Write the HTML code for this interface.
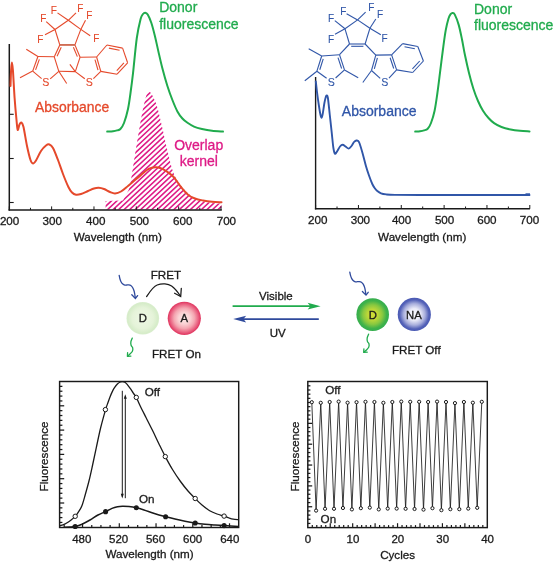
<!DOCTYPE html>
<html lang="en"><head><meta charset="utf-8"><title>FRET photoswitch figure</title>
<style>html,body{margin:0;padding:0;background:#fff}svg{display:block}text{font-family:"Liberation Sans", Arial, Helvetica, sans-serif}</style>
</head><body>
<svg width="553" height="562" viewBox="0 0 553 562">
<defs>
<radialGradient id="gD1" cx="50%" cy="50%" r="50%"><stop offset="0" stop-color="#eff8e6"/><stop offset="0.65" stop-color="#e5f3d9"/><stop offset="0.92" stop-color="#d6ecc9"/><stop offset="1" stop-color="#daeece"/></radialGradient>
<radialGradient id="gA" cx="50%" cy="50%" r="50%"><stop offset="0" stop-color="#fde9e7"/><stop offset="0.35" stop-color="#fad2d4"/><stop offset="0.62" stop-color="#f4a6b1"/><stop offset="0.84" stop-color="#ea6483"/><stop offset="0.96" stop-color="#e23e66"/><stop offset="1" stop-color="#e24268"/></radialGradient>
<radialGradient id="gD2" cx="50%" cy="50%" r="50%"><stop offset="0" stop-color="#d0dc36"/><stop offset="0.3" stop-color="#c0d838"/><stop offset="0.6" stop-color="#88c840"/><stop offset="0.85" stop-color="#40b24a"/><stop offset="1" stop-color="#34ae4e"/></radialGradient>
<radialGradient id="gNA" cx="50%" cy="50%" r="50%"><stop offset="0" stop-color="#fafaff"/><stop offset="0.35" stop-color="#ececf8"/><stop offset="0.65" stop-color="#a8aedc"/><stop offset="0.88" stop-color="#5462b8"/><stop offset="1" stop-color="#4a5ab4"/></radialGradient>
</defs>
<rect width="553" height="562" fill="#fff"/>
<clipPath id="hc"><path d="M105.6 209.4L105.6 201L122.8 200.6C123.4 199.5 125.23 196.38 126.4 194C127.57 191.62 128.6 191.38 129.8 186.3C131 181.22 132.07 172.78 133.6 163.5C135.13 154.22 137.2 140.72 139 130.6C140.8 120.48 142.75 109.33 144.4 102.8C146.05 96.27 147 91.4 148.9 91.4C150.8 91.4 153.75 97.53 155.8 102.8C157.85 108.07 159.25 114.98 161.2 123C163.15 131.02 165.4 142.45 167.5 150.9C169.6 159.35 171.3 167.6 173.8 173.7C176.3 179.8 179.47 183.7 182.5 187.5C185.53 191.3 188.92 194.33 192 196.5C195.08 198.67 197.6 199.43 201 200.5C204.4 201.57 208.97 202.38 212.4 202.9C215.83 203.42 220.07 203.48 221.6 203.6L221.6 209.4Z"/></clipPath>
<path d="M100 77.6L226 -39.9M100 82.75L226 -34.75M100 87.9L226 -29.6M100 93.05L226 -24.45M100 98.2L226 -19.3M100 103.35L226 -14.15M100 108.5L226 -9M100 113.65L226 -3.85M100 118.8L226 1.3M100 123.95L226 6.45M100 129.1L226 11.6M100 134.25L226 16.75M100 139.4L226 21.9M100 144.55L226 27.05M100 149.7L226 32.2M100 154.85L226 37.35M100 160L226 42.5M100 165.15L226 47.65M100 170.3L226 52.8M100 175.45L226 57.95M100 180.6L226 63.1M100 185.75L226 68.25M100 190.9L226 73.4M100 196.05L226 78.55M100 201.2L226 83.7M100 206.35L226 88.85M100 211.5L226 94M100 216.65L226 99.15M100 221.8L226 104.3M100 226.95L226 109.45M100 232.1L226 114.6M100 237.25L226 119.75M100 242.4L226 124.9M100 247.55L226 130.05M100 252.7L226 135.2M100 257.85L226 140.35M100 263L226 145.5M100 268.15L226 150.65M100 273.3L226 155.8M100 278.45L226 160.95M100 283.6L226 166.1M100 288.75L226 171.25M100 293.9L226 176.4M100 299.05L226 181.55M100 304.2L226 186.7M100 309.35L226 191.85M100 314.5L226 197M100 319.65L226 202.15M100 324.8L226 207.3M100 329.95L226 212.45M100 335.1L226 217.6" clip-path="url(#hc)" fill="none" stroke="#de1a86" stroke-width="1.55"/>
<line x1="9.3" y1="44" x2="9.3" y2="210.6" stroke="#1a1a1a" stroke-width="1.5" />
<line x1="8.6" y1="210" x2="221.8" y2="210" stroke="#1a1a1a" stroke-width="1.4" />
<line x1="9.3" y1="114.3" x2="13.7" y2="114.3" stroke="#1a1a1a" stroke-width="1.1" />
<line x1="9.3" y1="158.5" x2="13.7" y2="158.5" stroke="#1a1a1a" stroke-width="1.1" />
<line x1="9.3" y1="202.5" x2="13.7" y2="202.5" stroke="#1a1a1a" stroke-width="1.1" />
<line x1="9.3" y1="210" x2="9.3" y2="206.4" stroke="#1a1a1a" stroke-width="1" />
<line x1="30.47" y1="210" x2="30.47" y2="207.8" stroke="#1a1a1a" stroke-width="1" />
<line x1="51.64" y1="210" x2="51.64" y2="206.4" stroke="#1a1a1a" stroke-width="1" />
<line x1="72.81" y1="210" x2="72.81" y2="207.8" stroke="#1a1a1a" stroke-width="1" />
<line x1="93.98" y1="210" x2="93.98" y2="206.4" stroke="#1a1a1a" stroke-width="1" />
<line x1="115.15" y1="210" x2="115.15" y2="207.8" stroke="#1a1a1a" stroke-width="1" />
<line x1="136.32" y1="210" x2="136.32" y2="206.4" stroke="#1a1a1a" stroke-width="1" />
<line x1="157.49" y1="210" x2="157.49" y2="207.8" stroke="#1a1a1a" stroke-width="1" />
<line x1="178.66" y1="210" x2="178.66" y2="206.4" stroke="#1a1a1a" stroke-width="1" />
<line x1="199.83" y1="210" x2="199.83" y2="207.8" stroke="#1a1a1a" stroke-width="1" />
<line x1="221" y1="210" x2="221" y2="206.4" stroke="#1a1a1a" stroke-width="1" />
<text x="9.6" y="224.7" font-size="11.65" fill="#1a1a1a" stroke="#1a1a1a" stroke-width="0.3" text-anchor="middle" >200</text>
<text x="52.2" y="224.7" font-size="11.65" fill="#1a1a1a" stroke="#1a1a1a" stroke-width="0.3" text-anchor="middle" >300</text>
<text x="95.8" y="224.7" font-size="11.65" fill="#1a1a1a" stroke="#1a1a1a" stroke-width="0.3" text-anchor="middle" >400</text>
<text x="139.4" y="224.7" font-size="11.65" fill="#1a1a1a" stroke="#1a1a1a" stroke-width="0.3" text-anchor="middle" >500</text>
<text x="182.8" y="224.7" font-size="11.65" fill="#1a1a1a" stroke="#1a1a1a" stroke-width="0.3" text-anchor="middle" >600</text>
<text x="226.4" y="224.7" font-size="11.65" fill="#1a1a1a" stroke="#1a1a1a" stroke-width="0.3" text-anchor="middle" >700</text>
<text x="117.8" y="241.3" font-size="11.65" fill="#1a1a1a" stroke="#1a1a1a" stroke-width="0.3" text-anchor="middle" >Wavelength (nm)</text>
<path d="M10.5 86C10.6 83.33 10.87 73.93 11.1 70C11.33 66.07 11.6 62.4 11.9 62.4C12.2 62.4 12.45 64.07 12.9 70C13.35 75.93 14 89.67 14.6 98C15.2 106.33 15.98 114.67 16.5 120C17.02 125.33 17.2 129.25 17.7 130C18.2 130.75 18.87 125.75 19.5 124.5C20.13 123.25 20.83 122.08 21.5 122.5C22.17 122.92 22.58 123.08 23.5 127C24.42 130.92 25.83 140.5 27 146C28.17 151.5 29.5 157.08 30.5 160C31.5 162.92 32.08 163.42 33 163.5C33.92 163.58 34.67 162.58 36 160.5C37.33 158.42 39.33 153.5 41 151C42.67 148.5 44.6 146.58 46 145.5C47.4 144.42 48.23 144.08 49.4 144.5C50.57 144.92 51.57 145.42 53 148C54.43 150.58 56.33 155.67 58 160C59.67 164.33 61.27 169.5 63 174C64.73 178.5 66.9 183.92 68.4 187C69.9 190.08 70.73 191.22 72 192.5C73.27 193.78 74.5 194.45 76 194.7C77.5 194.95 79 194.62 81 194C83 193.38 85.83 191.92 88 191C90.17 190.08 92.22 189.03 94 188.5C95.78 187.97 97.03 187.72 98.7 187.8C100.37 187.88 102.12 188.3 104 189C105.88 189.7 108.17 191.27 110 192C111.83 192.73 113.17 193.48 115 193.4C116.83 193.32 118.83 192.73 121 191.5C123.17 190.27 125.67 187.92 128 186C130.33 184.08 132.92 181.75 135 180C137.08 178.25 138.4 177.25 140.5 175.5C142.6 173.75 145.72 170.78 147.6 169.5C149.48 168.22 150.43 168.17 151.8 167.8C153.17 167.43 154.3 167.22 155.8 167.3C157.3 167.38 158.97 167.6 160.8 168.3C162.63 169 164.67 170.05 166.8 171.5C168.93 172.95 171.23 174.42 173.6 177C175.97 179.58 178.6 184.05 181 187C183.4 189.95 185.67 192.78 188 194.7C190.33 196.62 192.5 197.53 195 198.5C197.5 199.47 200.17 199.95 203 200.5C205.83 201.05 208.92 201.5 212 201.8C215.08 202.1 219.92 202.22 221.5 202.3" fill="none" stroke="#e5492b" stroke-width="2" stroke-linejoin="round" stroke-linecap="round"/>
<path d="M107.2 131.6C108.17 131.53 111.37 131.4 113 131.2C114.63 131 115.77 130.77 117 130.4C118.23 130.03 119.23 130.23 120.4 129C121.57 127.77 122.73 126.33 124 123C125.27 119.67 126.92 114 128 109C129.08 104 129.67 98.93 130.5 93C131.33 87.07 131.95 82.57 133 73.4C134.05 64.23 135.53 47.07 136.8 38C138.07 28.93 139.57 23 140.6 19C141.63 15 142.23 15.05 143 14C143.77 12.95 144.42 12.62 145.2 12.7C145.98 12.78 146.68 12.82 147.7 14.5C148.72 16.18 150.1 19.22 151.3 22.8C152.5 26.38 153.75 31.37 154.9 36C156.05 40.63 156.97 45.27 158.2 50.6C159.43 55.93 160.77 62.1 162.3 68C163.83 73.9 165.72 80.67 167.4 86C169.08 91.33 170.73 95.77 172.4 100C174.07 104.23 175.73 108.32 177.4 111.4C179.07 114.48 180.72 116.6 182.4 118.5C184.08 120.4 185.57 121.45 187.5 122.8C189.43 124.15 191.58 125.57 194 126.6C196.42 127.63 199 128.3 202 129C205 129.7 208.5 130.37 212 130.8C215.5 131.23 221.17 131.47 223 131.6" fill="none" stroke="#20ab4d" stroke-width="2" stroke-linejoin="round" stroke-linecap="round"/>
<text x="159.2" y="12.4" font-size="14" fill="#20ab4d" stroke="#20ab4d" stroke-width="0.3" text-anchor="start" >Donor</text>
<text x="159.2" y="28.7" font-size="14" fill="#20ab4d" stroke="#20ab4d" stroke-width="0.3" text-anchor="start" >fluorescence</text>
<text x="35" y="111.6" font-size="13.9" fill="#e5492b" stroke="#e5492b" stroke-width="0.3" text-anchor="start" >Absorbance</text>
<text x="198.7" y="149.5" font-size="14" fill="#de1a86" stroke="#de1a86" stroke-width="0.3" text-anchor="middle" >Overlap</text>
<text x="198.9" y="165.6" font-size="14" fill="#de1a86" stroke="#de1a86" stroke-width="0.3" text-anchor="middle" >kernel</text>
<line x1="68.3" y1="20.3" x2="55" y2="29.5" stroke="#e5492b" stroke-width="1.1" />
<line x1="68.3" y1="20.3" x2="80.8" y2="29.4" stroke="#e5492b" stroke-width="1.1" />
<line x1="55" y1="29.5" x2="59.8" y2="44.9" stroke="#e5492b" stroke-width="1.1" />
<line x1="80.8" y1="29.4" x2="74.9" y2="44.9" stroke="#e5492b" stroke-width="1.1" />
<line x1="59.8" y1="44.9" x2="74.9" y2="44.9" stroke="#e5492b" stroke-width="1.1" />
<line x1="68.3" y1="20.3" x2="57.5" y2="12.9" stroke="#e5492b" stroke-width="1.1" />
<line x1="68.3" y1="20.3" x2="76" y2="12.8" stroke="#e5492b" stroke-width="1.1" />
<line x1="55" y1="29.5" x2="46.2" y2="21.6" stroke="#e5492b" stroke-width="1.1" />
<line x1="55" y1="29.5" x2="45" y2="34.8" stroke="#e5492b" stroke-width="1.1" />
<line x1="80.8" y1="29.4" x2="85.5" y2="20.2" stroke="#e5492b" stroke-width="1.1" />
<line x1="80.8" y1="29.4" x2="90.2" y2="35.8" stroke="#e5492b" stroke-width="1.1" />
<text x="53.7" y="14" font-size="10" fill="#e5492b" stroke="#e5492b" stroke-width="0.1" text-anchor="middle" >F</text>
<text x="80.3" y="12.2" font-size="10" fill="#e5492b" stroke="#e5492b" stroke-width="0.1" text-anchor="middle" >F</text>
<text x="43.2" y="22" font-size="10" fill="#e5492b" stroke="#e5492b" stroke-width="0.1" text-anchor="middle" >F</text>
<text x="40.3" y="42.6" font-size="10" fill="#e5492b" stroke="#e5492b" stroke-width="0.1" text-anchor="middle" >F</text>
<text x="89.2" y="18.5" font-size="10" fill="#e5492b" stroke="#e5492b" stroke-width="0.1" text-anchor="middle" >F</text>
<text x="96.4" y="42.3" font-size="10" fill="#e5492b" stroke="#e5492b" stroke-width="0.1" text-anchor="middle" >F</text>
<line x1="74.9" y1="44.9" x2="80.1" y2="57.2" stroke="#e5492b" stroke-width="1.1" />
<line x1="80.1" y1="57.2" x2="75.3" y2="71.6" stroke="#e5492b" stroke-width="1.1" />
<line x1="75.3" y1="71.6" x2="58.8" y2="71.3" stroke="#e5492b" stroke-width="1.1" />
<line x1="58.8" y1="71.3" x2="54.3" y2="56.8" stroke="#e5492b" stroke-width="1.1" />
<line x1="54.3" y1="56.8" x2="59.8" y2="44.9" stroke="#e5492b" stroke-width="1.1" />
<line x1="57.05" y1="56.34" x2="61.23" y2="47.29" stroke="#e5492b" stroke-width="1.1" />
<line x1="73.41" y1="47.27" x2="77.36" y2="56.62" stroke="#e5492b" stroke-width="1.1" />
<line x1="59.8" y1="44.9" x2="74.9" y2="44.9" stroke="#c9684f" stroke-width="1.5" />
<line x1="54.3" y1="56.8" x2="37.9" y2="56.5" stroke="#e5492b" stroke-width="1.1" />
<line x1="37.9" y1="56.5" x2="32.7" y2="71.1" stroke="#e5492b" stroke-width="1.1" />
<line x1="39.34" y1="59.32" x2="35.59" y2="69.83" stroke="#e5492b" stroke-width="1.1" />
<line x1="32.7" y1="71.1" x2="41.6" y2="78.6" stroke="#e5492b" stroke-width="1.1" />
<line x1="58.8" y1="71.3" x2="50.2" y2="78.8" stroke="#e5492b" stroke-width="1.1" />
<text x="45.8" y="85.9" font-size="10.6" fill="#e5492b" stroke="#e5492b" stroke-width="0.1" text-anchor="middle" >S</text>
<line x1="37.9" y1="56.5" x2="26.3" y2="49.2" stroke="#e5492b" stroke-width="1.1" />
<line x1="32.7" y1="71.1" x2="20" y2="77.7" stroke="#e5492b" stroke-width="1.1" />
<line x1="58.8" y1="71.3" x2="66.7" y2="83.5" stroke="#e5492b" stroke-width="1.1" />
<line x1="75.3" y1="71.6" x2="69.9" y2="64.4" stroke="#e5492b" stroke-width="1.1" />
<line x1="80.1" y1="57.2" x2="96.6" y2="57" stroke="#e5492b" stroke-width="1.1" />
<line x1="96.6" y1="57" x2="100.8" y2="71.4" stroke="#e5492b" stroke-width="1.1" />
<line x1="94.98" y1="59.66" x2="98" y2="70.03" stroke="#e5492b" stroke-width="1.1" />
<line x1="100.8" y1="71.4" x2="93.4" y2="78.6" stroke="#e5492b" stroke-width="1.1" />
<line x1="75.3" y1="71.6" x2="84.8" y2="78.8" stroke="#e5492b" stroke-width="1.1" />
<text x="89.2" y="85.9" font-size="10.6" fill="#e5492b" stroke="#e5492b" stroke-width="0.1" text-anchor="middle" >S</text>
<line x1="96.6" y1="57" x2="106.9" y2="45" stroke="#e5492b" stroke-width="1.1" />
<line x1="106.9" y1="45" x2="122.6" y2="48.1" stroke="#e5492b" stroke-width="1.1" />
<line x1="122.6" y1="48.1" x2="127.6" y2="62.8" stroke="#e5492b" stroke-width="1.1" />
<line x1="127.6" y1="62.8" x2="117.1" y2="74.2" stroke="#e5492b" stroke-width="1.1" />
<line x1="117.1" y1="74.2" x2="100.8" y2="71.4" stroke="#e5492b" stroke-width="1.1" />
<line x1="108.89" y1="48.14" x2="119.56" y2="50.25" stroke="#e5492b" stroke-width="1.1" />
<line x1="123.93" y1="62.79" x2="116.79" y2="70.55" stroke="#e5492b" stroke-width="1.1" />
<line x1="315.6" y1="77" x2="315.6" y2="209.4" stroke="#1a1a1a" stroke-width="1.4" />
<line x1="314.9" y1="208.8" x2="529.9" y2="208.8" stroke="#1a1a1a" stroke-width="1.4" />
<line x1="315.6" y1="208.8" x2="315.6" y2="205" stroke="#1a1a1a" stroke-width="1" />
<line x1="337.02" y1="208.8" x2="337.02" y2="206.5" stroke="#1a1a1a" stroke-width="1" />
<line x1="358.44" y1="208.8" x2="358.44" y2="205" stroke="#1a1a1a" stroke-width="1" />
<line x1="379.86" y1="208.8" x2="379.86" y2="206.5" stroke="#1a1a1a" stroke-width="1" />
<line x1="401.28" y1="208.8" x2="401.28" y2="205" stroke="#1a1a1a" stroke-width="1" />
<line x1="422.7" y1="208.8" x2="422.7" y2="206.5" stroke="#1a1a1a" stroke-width="1" />
<line x1="444.12" y1="208.8" x2="444.12" y2="205" stroke="#1a1a1a" stroke-width="1" />
<line x1="465.54" y1="208.8" x2="465.54" y2="206.5" stroke="#1a1a1a" stroke-width="1" />
<line x1="486.96" y1="208.8" x2="486.96" y2="205" stroke="#1a1a1a" stroke-width="1" />
<line x1="508.38" y1="208.8" x2="508.38" y2="206.5" stroke="#1a1a1a" stroke-width="1" />
<line x1="529.8" y1="208.8" x2="529.8" y2="205" stroke="#1a1a1a" stroke-width="1" />
<text x="317.8" y="224.4" font-size="11.65" fill="#1a1a1a" stroke="#1a1a1a" stroke-width="0.3" text-anchor="middle" >200</text>
<text x="360.4" y="224.4" font-size="11.65" fill="#1a1a1a" stroke="#1a1a1a" stroke-width="0.3" text-anchor="middle" >300</text>
<text x="401.6" y="224.4" font-size="11.65" fill="#1a1a1a" stroke="#1a1a1a" stroke-width="0.3" text-anchor="middle" >400</text>
<text x="444.6" y="224.4" font-size="11.65" fill="#1a1a1a" stroke="#1a1a1a" stroke-width="0.3" text-anchor="middle" >500</text>
<text x="486.9" y="224.4" font-size="11.65" fill="#1a1a1a" stroke="#1a1a1a" stroke-width="0.3" text-anchor="middle" >600</text>
<text x="529.5" y="224.4" font-size="11.65" fill="#1a1a1a" stroke="#1a1a1a" stroke-width="0.3" text-anchor="middle" >700</text>
<text x="422.2" y="241.2" font-size="11.65" fill="#1a1a1a" stroke="#1a1a1a" stroke-width="0.3" text-anchor="middle" >Wavelength (nm)</text>
<path d="M315.8 81.5C316 83.25 316.5 88.08 317 92C317.5 95.92 318.23 101.25 318.8 105C319.37 108.75 319.93 112.38 320.4 114.5C320.87 116.62 321.22 117.78 321.6 117.7C321.98 117.62 322.23 116.45 322.7 114C323.17 111.55 323.88 105.83 324.4 103C324.92 100.17 325.4 98.27 325.8 97C326.2 95.73 326.45 95.23 326.8 95.4C327.15 95.57 327.4 94.73 327.9 98C328.4 101.27 329.15 109.1 329.8 115C330.45 120.9 331.2 127.9 331.8 133.4C332.4 138.9 332.87 144.62 333.4 148C333.93 151.38 334.4 153.12 335 153.7C335.6 154.28 336.17 152.7 337 151.5C337.83 150.3 339.05 147.62 340 146.5C340.95 145.38 341.78 144.8 342.7 144.8C343.62 144.8 344.5 145.87 345.5 146.5C346.5 147.13 347.7 148.68 348.7 148.6C349.7 148.52 350.62 147.1 351.5 146C352.38 144.9 353.2 142.92 354 142C354.8 141.08 355.6 140.67 356.3 140.5C357 140.33 357.65 140.5 358.2 141C358.75 141.5 358.88 141.5 359.6 143.5C360.32 145.5 361.43 149.2 362.5 153C363.57 156.8 364.92 162.55 366 166.3C367.08 170.05 367.95 172.55 369 175.5C370.05 178.45 371.3 181.83 372.3 184C373.3 186.17 374.17 187.33 375 188.5C375.83 189.67 376.3 190.2 377.3 191C378.3 191.8 379.52 192.73 381 193.3C382.48 193.87 383.87 194.13 386.2 194.4C388.53 194.67 389.37 194.8 395 194.9C400.63 195 409.17 194.98 420 195C430.83 195.02 446.67 195 460 195C473.33 195 488.42 195 500 195C511.58 195 524.58 195 529.5 195" fill="none" stroke="#3056a8" stroke-width="1.9" stroke-linejoin="round" stroke-linecap="round"/>
<line x1="525.5" y1="194.6" x2="530" y2="194.6" stroke="#3056a8" stroke-width="2.6" />
<path d="M415.2 131.6C416 131.53 418.53 131.4 420 131.2C421.47 131 422.72 130.82 424 130.4C425.28 129.98 426.53 129.93 427.7 128.7C428.87 127.47 429.85 126 431 123C432.15 120 433.53 115.7 434.6 110.7C435.67 105.7 436.48 99.47 437.4 93C438.32 86.53 439.17 79.23 440.1 71.9C441.03 64.57 442.07 55.92 443 49C443.93 42.08 444.78 35.48 445.7 30.4C446.62 25.32 447.68 21.2 448.5 18.5C449.32 15.8 449.92 15.12 450.6 14.2C451.28 13.28 451.9 12.93 452.6 13C453.3 13.07 453.78 12.62 454.8 14.6C455.82 16.58 457.5 20.75 458.7 24.9C459.9 29.05 460.95 34.43 462 39.5C463.05 44.57 463.83 49.72 465 55.3C466.17 60.88 467.62 67.47 469 73C470.38 78.53 471.8 83.83 473.3 88.5C474.8 93.17 476.38 97.3 478 101C479.62 104.7 481.25 107.87 483 110.7C484.75 113.53 486.65 115.93 488.5 118C490.35 120.07 491.93 121.6 494.1 123.1C496.27 124.6 498.73 125.93 501.5 127C504.27 128.07 507.62 128.87 510.7 129.5C513.78 130.13 516.87 130.48 520 130.8C523.13 131.12 527.92 131.3 529.5 131.4" fill="none" stroke="#20ab4d" stroke-width="2" stroke-linejoin="round" stroke-linecap="round"/>
<text x="474" y="13.8" font-size="14" fill="#20ab4d" stroke="#20ab4d" stroke-width="0.3" text-anchor="start" >Donor</text>
<text x="474" y="29.9" font-size="14" fill="#20ab4d" stroke="#20ab4d" stroke-width="0.3" text-anchor="start" >fluorescence</text>
<text x="341.8" y="115.9" font-size="14" fill="#3056a8" stroke="#3056a8" stroke-width="0.3" text-anchor="start" >Absorbance</text>
<line x1="357.6" y1="19.9" x2="345" y2="28.8" stroke="#3056a8" stroke-width="1.1" />
<line x1="357.6" y1="19.9" x2="369.9" y2="28.3" stroke="#3056a8" stroke-width="1.1" />
<line x1="345" y1="28.8" x2="349.5" y2="44" stroke="#3056a8" stroke-width="1.1" />
<line x1="369.9" y1="28.3" x2="365.1" y2="44" stroke="#3056a8" stroke-width="1.1" />
<line x1="349.5" y1="44" x2="365.1" y2="44" stroke="#3056a8" stroke-width="1.1" />
<line x1="351.2" y1="46.3" x2="363.4" y2="46.3" stroke="#3056a8" stroke-width="1.1" />
<line x1="357.6" y1="19.9" x2="346.6" y2="13.8" stroke="#3056a8" stroke-width="1.1" />
<line x1="357.6" y1="19.9" x2="365.6" y2="12.2" stroke="#3056a8" stroke-width="1.1" />
<line x1="345" y1="28.8" x2="334.8" y2="20.6" stroke="#3056a8" stroke-width="1.1" />
<line x1="345" y1="28.8" x2="335" y2="34.2" stroke="#3056a8" stroke-width="1.1" />
<line x1="369.9" y1="28.3" x2="375.8" y2="19" stroke="#3056a8" stroke-width="1.1" />
<line x1="369.9" y1="28.3" x2="380.8" y2="34.8" stroke="#3056a8" stroke-width="1.1" />
<text x="343.4" y="15" font-size="10" fill="#3056a8" stroke="#3056a8" stroke-width="0.1" text-anchor="middle" >F</text>
<text x="371.2" y="10.9" font-size="10" fill="#3056a8" stroke="#3056a8" stroke-width="0.1" text-anchor="middle" >F</text>
<text x="331.1" y="22" font-size="10" fill="#3056a8" stroke="#3056a8" stroke-width="0.1" text-anchor="middle" >F</text>
<text x="331.1" y="42.6" font-size="10" fill="#3056a8" stroke="#3056a8" stroke-width="0.1" text-anchor="middle" >F</text>
<text x="380.1" y="18.2" font-size="10" fill="#3056a8" stroke="#3056a8" stroke-width="0.1" text-anchor="middle" >F</text>
<text x="384.5" y="42.2" font-size="10" fill="#3056a8" stroke="#3056a8" stroke-width="0.1" text-anchor="middle" >F</text>
<line x1="349.5" y1="44" x2="339.5" y2="54.7" stroke="#3056a8" stroke-width="1.1" />
<line x1="339.5" y1="54.7" x2="321.7" y2="56" stroke="#3056a8" stroke-width="1.1" />
<line x1="321.7" y1="56" x2="316.9" y2="71.2" stroke="#3056a8" stroke-width="1.1" />
<line x1="339.5" y1="54.7" x2="344.5" y2="69.9" stroke="#3056a8" stroke-width="1.1" />
<line x1="323.22" y1="58.82" x2="319.77" y2="69.76" stroke="#3056a8" stroke-width="1.1" />
<line x1="338.02" y1="57.55" x2="341.62" y2="68.49" stroke="#3056a8" stroke-width="1.1" />
<line x1="316.9" y1="71.2" x2="326.6" y2="78.3" stroke="#3056a8" stroke-width="1.1" />
<line x1="344.5" y1="69.9" x2="335.6" y2="78" stroke="#3056a8" stroke-width="1.1" />
<text x="331.4" y="85.7" font-size="10.6" fill="#3056a8" stroke="#3056a8" stroke-width="0.1" text-anchor="middle" >S</text>
<line x1="321.7" y1="56" x2="308.7" y2="48.8" stroke="#3056a8" stroke-width="1.1" />
<line x1="316.9" y1="71.2" x2="304.8" y2="80.7" stroke="#3056a8" stroke-width="1.1" />
<line x1="344.5" y1="69.9" x2="358.2" y2="77.7" stroke="#3056a8" stroke-width="1.1" />
<line x1="365.1" y1="44" x2="375.8" y2="55.1" stroke="#3056a8" stroke-width="1.1" />
<line x1="375.8" y1="55.1" x2="391.6" y2="54.9" stroke="#3056a8" stroke-width="1.1" />
<line x1="391.6" y1="54.9" x2="396.6" y2="69.9" stroke="#3056a8" stroke-width="1.1" />
<line x1="375.8" y1="55.1" x2="371.5" y2="70.5" stroke="#3056a8" stroke-width="1.1" />
<line x1="377.41" y1="57.87" x2="374.32" y2="68.96" stroke="#3056a8" stroke-width="1.1" />
<line x1="390.12" y1="57.73" x2="393.72" y2="68.53" stroke="#3056a8" stroke-width="1.1" />
<line x1="371.5" y1="70.5" x2="380.2" y2="78.4" stroke="#3056a8" stroke-width="1.1" />
<line x1="396.6" y1="69.9" x2="389" y2="78.2" stroke="#3056a8" stroke-width="1.1" />
<text x="384.7" y="86" font-size="10.6" fill="#3056a8" stroke="#3056a8" stroke-width="0.1" text-anchor="middle" >S</text>
<line x1="371.5" y1="70.5" x2="362.8" y2="82.5" stroke="#3056a8" stroke-width="1.1" />
<line x1="391.6" y1="54.9" x2="402.6" y2="43.6" stroke="#3056a8" stroke-width="1.1" />
<line x1="402.6" y1="43.6" x2="417.8" y2="46.5" stroke="#3056a8" stroke-width="1.1" />
<line x1="417.8" y1="46.5" x2="423.4" y2="61" stroke="#3056a8" stroke-width="1.1" />
<line x1="423.4" y1="61" x2="412.7" y2="72.5" stroke="#3056a8" stroke-width="1.1" />
<line x1="412.7" y1="72.5" x2="396.6" y2="69.9" stroke="#3056a8" stroke-width="1.1" />
<line x1="404.53" y1="46.72" x2="414.86" y2="48.69" stroke="#3056a8" stroke-width="1.1" />
<line x1="419.71" y1="61" x2="412.44" y2="68.82" stroke="#3056a8" stroke-width="1.1" />
<circle cx="142.8" cy="318.3" r="16.3" fill="url(#gD1)"/>
<circle cx="184.3" cy="318.3" r="16.6" fill="url(#gA)"/>
<text x="142.8" y="322.2" font-size="11.3" fill="#1a1a1a" stroke="#1a1a1a" stroke-width="0.3" text-anchor="middle" >D</text>
<text x="184.2" y="322.2" font-size="11.3" fill="#1a1a1a" stroke="#1a1a1a" stroke-width="0.3" text-anchor="middle" >A</text>
<text x="165.9" y="278.6" font-size="11.65" fill="#1a1a1a" stroke="#1a1a1a" stroke-width="0.3" text-anchor="middle" >FRET</text>
<text x="152" y="357.6" font-size="11.65" fill="#1a1a1a" stroke="#1a1a1a" stroke-width="0.3" text-anchor="start" >FRET On</text>
<path d="M119.2 275.5C119.32 276.03 119.6 277.67 119.9 278.7C120.2 279.73 120.52 280.8 121 281.7C121.48 282.6 122.17 283.53 122.8 284.1C123.43 284.67 124.13 284.95 124.8 285.1C125.47 285.25 126.13 285.03 126.8 285C127.47 284.97 128.13 284.82 128.8 284.9C129.47 284.98 130.17 285.07 130.8 285.5C131.43 285.93 132.07 286.63 132.6 287.5C133.13 288.37 133.63 289.53 134 290.7C134.37 291.87 134.6 293.37 134.8 294.5C135 295.63 135.13 297 135.2 297.5" fill="none" stroke="#2f4a9c" stroke-width="1.3" stroke-linecap="round"/>
<path d="M131.8 294.8L135.4 298.4L137.6 295.6" fill="none" stroke="#2f4a9c" stroke-width="1.3" stroke-linecap="round" stroke-linejoin="miter"/>
<path d="M349.8 272.2C349.92 272.73 350.2 274.37 350.5 275.4C350.8 276.43 351.12 277.5 351.6 278.4C352.08 279.3 352.77 280.23 353.4 280.8C354.03 281.37 354.73 281.65 355.4 281.8C356.07 281.95 356.73 281.73 357.4 281.7C358.07 281.67 358.73 281.52 359.4 281.6C360.07 281.68 360.77 281.77 361.4 282.2C362.03 282.63 362.67 283.33 363.2 284.2C363.73 285.07 364.23 286.23 364.6 287.4C364.97 288.57 365.2 290.07 365.4 291.2C365.6 292.33 365.73 293.7 365.8 294.2" fill="none" stroke="#2f4a9c" stroke-width="1.3" stroke-linecap="round"/>
<path d="M362.4 291.5L366 295.1L368.2 292.3" fill="none" stroke="#2f4a9c" stroke-width="1.3" stroke-linecap="round" stroke-linejoin="miter"/>
<path d="M132.3 338.1C132.07 338.7 131.1 340.5 130.9 341.7C130.7 342.9 130.8 344.27 131.1 345.3C131.4 346.33 132.48 346.92 132.7 347.9C132.92 348.88 132.87 350.17 132.4 351.2C131.93 352.23 130.65 353.33 129.9 354.1C129.15 354.87 128.23 355.52 127.9 355.8" fill="none" stroke="#20ab4d" stroke-width="1.3" stroke-linecap="round"/>
<path d="M127.4 356.3L127.6 352.7M127.4 356.3L130.9 356.1" fill="none" stroke="#20ab4d" stroke-width="1.3" stroke-linecap="round"/>
<path d="M368.6 334.2C368.37 334.8 367.4 336.6 367.2 337.8C367 339 367.1 340.37 367.4 341.4C367.7 342.43 368.78 343.02 369 344C369.22 344.98 369.17 346.27 368.7 347.3C368.23 348.33 366.95 349.43 366.2 350.2C365.45 350.97 364.53 351.62 364.2 351.9" fill="none" stroke="#20ab4d" stroke-width="1.3" stroke-linecap="round"/>
<path d="M363.7 352.4L363.9 348.8M363.7 352.4L367.2 352.2" fill="none" stroke="#20ab4d" stroke-width="1.3" stroke-linecap="round"/>
<path d="M146.6 296.6C149.6 292 153 286.6 157.2 285C162 283.2 168.2 283.7 171.6 286C175.2 288.6 178 292.4 180.4 296" fill="none" stroke="#1a1a1a" stroke-width="1.25" stroke-linecap="round"/>
<path d="M174.6 293.2L180.7 296.5L181.3 288.4" fill="none" stroke="#1a1a1a" stroke-width="1.25" stroke-linecap="round" stroke-linejoin="miter"/>
<line x1="232.6" y1="306.2" x2="312" y2="306.2" stroke="#20ab4d" stroke-width="1.8" />
<path d="M320.6 306.2L307.6 302.8L310.4 306.2L307.6 309.6Z" fill="#20ab4d"/>
<line x1="242" y1="319.1" x2="318.8" y2="319.1" stroke="#2f4a9c" stroke-width="1.8" />
<path d="M233.2 319.1L246.2 315.7L243.4 319.1L246.2 322.5Z" fill="#2f4a9c"/>
<text x="275.9" y="300.1" font-size="11.5" fill="#1a1a1a" stroke="#1a1a1a" stroke-width="0.3" text-anchor="middle" >Visible</text>
<text x="277.7" y="336.5" font-size="11.5" fill="#1a1a1a" stroke="#1a1a1a" stroke-width="0.3" text-anchor="middle" >UV</text>
<circle cx="372.7" cy="314.6" r="16.3" fill="url(#gD2)"/>
<circle cx="414.3" cy="314.4" r="16.6" fill="url(#gNA)"/>
<text x="372.8" y="318.8" font-size="11.3" fill="#1a1a1a" stroke="#1a1a1a" stroke-width="0.3" text-anchor="middle" >D</text>
<text x="413.9" y="318.8" font-size="11.3" fill="#1a1a1a" stroke="#1a1a1a" stroke-width="0.3" text-anchor="middle" >NA</text>
<text x="391.9" y="354" font-size="11.65" fill="#1a1a1a" stroke="#1a1a1a" stroke-width="0.3" text-anchor="start" >FRET Off</text>
<rect x="59.6" y="381.5" width="179.1" height="146" fill="none" stroke="#1a1a1a" stroke-width="1.45"/>
<line x1="59.6" y1="386.36" x2="62.4" y2="386.36" stroke="#1a1a1a" stroke-width="1.25" />
<line x1="59.6" y1="391.22" x2="62.4" y2="391.22" stroke="#1a1a1a" stroke-width="1.25" />
<line x1="59.6" y1="396.08" x2="62.4" y2="396.08" stroke="#1a1a1a" stroke-width="1.25" />
<line x1="59.6" y1="400.94" x2="62.4" y2="400.94" stroke="#1a1a1a" stroke-width="1.25" />
<line x1="59.6" y1="405.8" x2="64.2" y2="405.8" stroke="#1a1a1a" stroke-width="1.25" />
<line x1="59.6" y1="410.66" x2="62.4" y2="410.66" stroke="#1a1a1a" stroke-width="1.25" />
<line x1="59.6" y1="415.52" x2="62.4" y2="415.52" stroke="#1a1a1a" stroke-width="1.25" />
<line x1="59.6" y1="420.38" x2="62.4" y2="420.38" stroke="#1a1a1a" stroke-width="1.25" />
<line x1="59.6" y1="425.24" x2="62.4" y2="425.24" stroke="#1a1a1a" stroke-width="1.25" />
<line x1="59.6" y1="430.1" x2="64.2" y2="430.1" stroke="#1a1a1a" stroke-width="1.25" />
<line x1="59.6" y1="434.96" x2="62.4" y2="434.96" stroke="#1a1a1a" stroke-width="1.25" />
<line x1="59.6" y1="439.82" x2="62.4" y2="439.82" stroke="#1a1a1a" stroke-width="1.25" />
<line x1="59.6" y1="444.68" x2="62.4" y2="444.68" stroke="#1a1a1a" stroke-width="1.25" />
<line x1="59.6" y1="449.54" x2="62.4" y2="449.54" stroke="#1a1a1a" stroke-width="1.25" />
<line x1="59.6" y1="454.4" x2="64.2" y2="454.4" stroke="#1a1a1a" stroke-width="1.25" />
<line x1="59.6" y1="459.26" x2="62.4" y2="459.26" stroke="#1a1a1a" stroke-width="1.25" />
<line x1="59.6" y1="464.12" x2="62.4" y2="464.12" stroke="#1a1a1a" stroke-width="1.25" />
<line x1="59.6" y1="468.98" x2="62.4" y2="468.98" stroke="#1a1a1a" stroke-width="1.25" />
<line x1="59.6" y1="473.84" x2="62.4" y2="473.84" stroke="#1a1a1a" stroke-width="1.25" />
<line x1="59.6" y1="478.7" x2="64.2" y2="478.7" stroke="#1a1a1a" stroke-width="1.25" />
<line x1="59.6" y1="483.56" x2="62.4" y2="483.56" stroke="#1a1a1a" stroke-width="1.25" />
<line x1="59.6" y1="488.42" x2="62.4" y2="488.42" stroke="#1a1a1a" stroke-width="1.25" />
<line x1="59.6" y1="493.28" x2="62.4" y2="493.28" stroke="#1a1a1a" stroke-width="1.25" />
<line x1="59.6" y1="498.14" x2="62.4" y2="498.14" stroke="#1a1a1a" stroke-width="1.25" />
<line x1="59.6" y1="503" x2="64.2" y2="503" stroke="#1a1a1a" stroke-width="1.25" />
<line x1="59.6" y1="507.86" x2="62.4" y2="507.86" stroke="#1a1a1a" stroke-width="1.25" />
<line x1="59.6" y1="512.72" x2="62.4" y2="512.72" stroke="#1a1a1a" stroke-width="1.25" />
<line x1="59.6" y1="517.58" x2="62.4" y2="517.58" stroke="#1a1a1a" stroke-width="1.25" />
<line x1="59.6" y1="522.44" x2="62.4" y2="522.44" stroke="#1a1a1a" stroke-width="1.25" />
<line x1="64.19" y1="527.5" x2="64.19" y2="525.1" stroke="#1a1a1a" stroke-width="1.2" />
<line x1="73.38" y1="527.5" x2="73.38" y2="525.1" stroke="#1a1a1a" stroke-width="1.2" />
<line x1="82.56" y1="527.5" x2="82.56" y2="523.3" stroke="#1a1a1a" stroke-width="1.2" />
<line x1="91.75" y1="527.5" x2="91.75" y2="525.1" stroke="#1a1a1a" stroke-width="1.2" />
<line x1="100.93" y1="527.5" x2="100.93" y2="525.1" stroke="#1a1a1a" stroke-width="1.2" />
<line x1="110.12" y1="527.5" x2="110.12" y2="525.1" stroke="#1a1a1a" stroke-width="1.2" />
<line x1="119.3" y1="527.5" x2="119.3" y2="523.3" stroke="#1a1a1a" stroke-width="1.2" />
<line x1="128.48" y1="527.5" x2="128.48" y2="525.1" stroke="#1a1a1a" stroke-width="1.2" />
<line x1="137.67" y1="527.5" x2="137.67" y2="525.1" stroke="#1a1a1a" stroke-width="1.2" />
<line x1="146.85" y1="527.5" x2="146.85" y2="525.1" stroke="#1a1a1a" stroke-width="1.2" />
<line x1="156.04" y1="527.5" x2="156.04" y2="523.3" stroke="#1a1a1a" stroke-width="1.2" />
<line x1="165.22" y1="527.5" x2="165.22" y2="525.1" stroke="#1a1a1a" stroke-width="1.2" />
<line x1="174.41" y1="527.5" x2="174.41" y2="525.1" stroke="#1a1a1a" stroke-width="1.2" />
<line x1="183.59" y1="527.5" x2="183.59" y2="525.1" stroke="#1a1a1a" stroke-width="1.2" />
<line x1="192.78" y1="527.5" x2="192.78" y2="523.3" stroke="#1a1a1a" stroke-width="1.2" />
<line x1="201.96" y1="527.5" x2="201.96" y2="525.1" stroke="#1a1a1a" stroke-width="1.2" />
<line x1="211.15" y1="527.5" x2="211.15" y2="525.1" stroke="#1a1a1a" stroke-width="1.2" />
<line x1="220.33" y1="527.5" x2="220.33" y2="525.1" stroke="#1a1a1a" stroke-width="1.2" />
<line x1="229.52" y1="527.5" x2="229.52" y2="523.3" stroke="#1a1a1a" stroke-width="1.2" />
<text x="81.8" y="542.5" font-size="11.5" fill="#1a1a1a" stroke="#1a1a1a" stroke-width="0.3" text-anchor="middle" >480</text>
<text x="118.6" y="542.5" font-size="11.5" fill="#1a1a1a" stroke="#1a1a1a" stroke-width="0.3" text-anchor="middle" >520</text>
<text x="155.5" y="542.5" font-size="11.5" fill="#1a1a1a" stroke="#1a1a1a" stroke-width="0.3" text-anchor="middle" >560</text>
<text x="192.6" y="542.5" font-size="11.5" fill="#1a1a1a" stroke="#1a1a1a" stroke-width="0.3" text-anchor="middle" >600</text>
<text x="229.8" y="542.5" font-size="11.5" fill="#1a1a1a" stroke="#1a1a1a" stroke-width="0.3" text-anchor="middle" >640</text>
<text x="149.5" y="557.7" font-size="11.65" fill="#1a1a1a" stroke="#1a1a1a" stroke-width="0.3" text-anchor="middle" >Wavelength (nm)</text>
<text transform="translate(48.3 456.5) rotate(-90)" font-size="11.65" fill="#1a1a1a" stroke="#1a1a1a" stroke-width="0.3" text-anchor="middle">Fluorescence</text>
<path d="M59.6 525.9C60.17 525.73 61.88 525.33 63 524.9C64.12 524.47 65 524.07 66.3 523.3C67.6 522.53 69.32 521.45 70.8 520.3C72.28 519.15 73.92 517.82 75.2 516.4C76.48 514.98 77.38 513.57 78.5 511.8C79.62 510.03 80.77 508.68 81.9 505.8C83.03 502.92 84.1 498.72 85.3 494.5C86.5 490.28 87.88 485.42 89.1 480.5C90.32 475.58 91.4 470.48 92.6 465C93.8 459.52 94.97 453.77 96.3 447.6C97.63 441.43 99.05 434.33 100.6 428C102.15 421.67 104.37 413.85 105.6 409.6C106.83 405.35 107.25 404.65 108 402.5C108.75 400.35 109.38 398.52 110.1 396.7C110.82 394.88 111.57 393.1 112.3 391.6C113.03 390.1 113.65 388.97 114.5 387.7C115.35 386.43 116.43 384.95 117.4 384C118.37 383.05 119.47 382.4 120.3 382C121.13 381.6 121.63 381.57 122.4 381.6C123.17 381.63 124.05 381.67 124.9 382.2C125.75 382.73 126.58 383.72 127.5 384.8C128.42 385.88 129.43 387.32 130.4 388.7C131.37 390.08 132.32 391.65 133.3 393.1C134.28 394.55 135.18 395.33 136.3 397.4C137.42 399.47 138.38 402.15 140 405.5C141.62 408.85 143.88 413.28 146 417.5C148.12 421.72 150.53 426.38 152.7 430.8C154.87 435.22 156.9 439.7 159 444C161.1 448.3 163.05 452.35 165.3 456.6C167.55 460.85 169.97 465.35 172.5 469.5C175.03 473.65 177.92 477.92 180.5 481.5C183.08 485.08 185.55 488.17 188 491C190.45 493.83 192.87 496.17 195.2 498.5C197.53 500.83 199.58 502.97 202 505C204.42 507.03 207.2 509.2 209.7 510.7C212.2 512.2 214.6 513.1 217 514C219.4 514.9 222.1 515.43 224.1 516.1C226.1 516.77 227.48 517.48 229 518C230.52 518.52 231.6 518.92 233.2 519.2C234.8 519.48 237.7 519.62 238.6 519.7" fill="none" stroke="#1a1a1a" stroke-width="1.3"/>
<path d="M64 527.2C65 527.17 68.13 527.13 70 527C71.87 526.87 73.2 526.87 75.2 526.4C77.2 525.93 79.53 525.27 82 524.2C84.47 523.13 87.33 521.53 90 520C92.67 518.47 95.4 516.39 98 515C100.6 513.61 103.27 512.75 105.6 511.65C107.93 510.55 110.02 509.21 112 508.4C113.98 507.59 115.77 507.15 117.5 506.8C119.23 506.45 120.48 506.33 122.4 506.3C124.32 506.27 126.68 506.35 129 506.6C131.32 506.85 133.8 507.23 136.3 507.8C138.8 508.37 141.38 509.17 144 510C146.62 510.83 149.5 511.97 152 512.8C154.5 513.63 156.73 514.35 159 515C161.27 515.65 162.93 516.03 165.6 516.7C168.27 517.37 171.77 518.25 175 519C178.23 519.75 181.63 520.53 185 521.2C188.37 521.87 191.87 522.5 195.2 523C198.53 523.5 201.7 523.87 205 524.2C208.3 524.53 211.82 524.77 215 525C218.18 525.23 220.17 525.37 224.1 525.6C228.03 525.83 236.18 526.27 238.6 526.4" fill="none" stroke="#1a1a1a" stroke-width="1.5"/>
<circle cx="75.2" cy="516.3" r="2.2" fill="#fff" stroke="#1a1a1a" stroke-width="1"/>
<circle cx="105.4" cy="409.6" r="2.2" fill="#fff" stroke="#1a1a1a" stroke-width="1"/>
<circle cx="136.3" cy="397.4" r="2.2" fill="#fff" stroke="#1a1a1a" stroke-width="1"/>
<circle cx="165.3" cy="456.6" r="2.2" fill="#fff" stroke="#1a1a1a" stroke-width="1"/>
<circle cx="195.2" cy="498.5" r="2.2" fill="#fff" stroke="#1a1a1a" stroke-width="1"/>
<circle cx="224.1" cy="516.1" r="2.2" fill="#fff" stroke="#1a1a1a" stroke-width="1"/>
<circle cx="75.2" cy="526.5" r="2.55" fill="#1a1a1a"/>
<circle cx="105.6" cy="511.65" r="2.55" fill="#1a1a1a"/>
<circle cx="136.3" cy="507.8" r="2.55" fill="#1a1a1a"/>
<circle cx="165.6" cy="516.7" r="2.55" fill="#1a1a1a"/>
<circle cx="195.2" cy="523" r="2.55" fill="#1a1a1a"/>
<circle cx="224.1" cy="525.6" r="2.55" fill="#1a1a1a"/>
<line x1="122.3" y1="390.8" x2="122.3" y2="496.6" stroke="#1a1a1a" stroke-width="1.0" />
<path d="M122.3 498.4L120.8 493.8L123.8 493.8Z" fill="#1a1a1a"/>
<line x1="125.3" y1="498.2" x2="125.3" y2="396.5" stroke="#1a1a1a" stroke-width="1.0" />
<path d="M125.3 394.2L123.8 398.8L126.8 398.8Z" fill="#1a1a1a"/>
<text x="144.7" y="395.9" font-size="11.65" fill="#1a1a1a" stroke="#1a1a1a" stroke-width="0.3" text-anchor="start" >Off</text>
<text x="138.9" y="503.1" font-size="11.65" fill="#1a1a1a" stroke="#1a1a1a" stroke-width="0.3" text-anchor="start" >On</text>
<rect x="307.8" y="381.5" width="179.5" height="146.1" fill="none" stroke="#1a1a1a" stroke-width="1.45"/>
<line x1="307.8" y1="385.82" x2="310.4" y2="385.82" stroke="#1a1a1a" stroke-width="1.25" />
<line x1="307.8" y1="389.99" x2="310.4" y2="389.99" stroke="#1a1a1a" stroke-width="1.25" />
<line x1="307.8" y1="394.16" x2="310.4" y2="394.16" stroke="#1a1a1a" stroke-width="1.25" />
<line x1="307.8" y1="398.33" x2="310.4" y2="398.33" stroke="#1a1a1a" stroke-width="1.25" />
<line x1="307.8" y1="402.5" x2="312.2" y2="402.5" stroke="#1a1a1a" stroke-width="1.25" />
<line x1="307.8" y1="406.67" x2="310.4" y2="406.67" stroke="#1a1a1a" stroke-width="1.25" />
<line x1="307.8" y1="410.84" x2="310.4" y2="410.84" stroke="#1a1a1a" stroke-width="1.25" />
<line x1="307.8" y1="415.01" x2="310.4" y2="415.01" stroke="#1a1a1a" stroke-width="1.25" />
<line x1="307.8" y1="419.18" x2="310.4" y2="419.18" stroke="#1a1a1a" stroke-width="1.25" />
<line x1="307.8" y1="423.35" x2="312.2" y2="423.35" stroke="#1a1a1a" stroke-width="1.25" />
<line x1="307.8" y1="427.52" x2="310.4" y2="427.52" stroke="#1a1a1a" stroke-width="1.25" />
<line x1="307.8" y1="431.69" x2="310.4" y2="431.69" stroke="#1a1a1a" stroke-width="1.25" />
<line x1="307.8" y1="435.86" x2="310.4" y2="435.86" stroke="#1a1a1a" stroke-width="1.25" />
<line x1="307.8" y1="440.03" x2="310.4" y2="440.03" stroke="#1a1a1a" stroke-width="1.25" />
<line x1="307.8" y1="444.2" x2="312.2" y2="444.2" stroke="#1a1a1a" stroke-width="1.25" />
<line x1="307.8" y1="448.37" x2="310.4" y2="448.37" stroke="#1a1a1a" stroke-width="1.25" />
<line x1="307.8" y1="452.54" x2="310.4" y2="452.54" stroke="#1a1a1a" stroke-width="1.25" />
<line x1="307.8" y1="456.71" x2="310.4" y2="456.71" stroke="#1a1a1a" stroke-width="1.25" />
<line x1="307.8" y1="460.88" x2="310.4" y2="460.88" stroke="#1a1a1a" stroke-width="1.25" />
<line x1="307.8" y1="465.05" x2="312.2" y2="465.05" stroke="#1a1a1a" stroke-width="1.25" />
<line x1="307.8" y1="469.22" x2="310.4" y2="469.22" stroke="#1a1a1a" stroke-width="1.25" />
<line x1="307.8" y1="473.39" x2="310.4" y2="473.39" stroke="#1a1a1a" stroke-width="1.25" />
<line x1="307.8" y1="477.56" x2="310.4" y2="477.56" stroke="#1a1a1a" stroke-width="1.25" />
<line x1="307.8" y1="481.73" x2="310.4" y2="481.73" stroke="#1a1a1a" stroke-width="1.25" />
<line x1="307.8" y1="485.9" x2="312.2" y2="485.9" stroke="#1a1a1a" stroke-width="1.25" />
<line x1="307.8" y1="490.07" x2="310.4" y2="490.07" stroke="#1a1a1a" stroke-width="1.25" />
<line x1="307.8" y1="494.24" x2="310.4" y2="494.24" stroke="#1a1a1a" stroke-width="1.25" />
<line x1="307.8" y1="498.41" x2="310.4" y2="498.41" stroke="#1a1a1a" stroke-width="1.25" />
<line x1="307.8" y1="502.58" x2="310.4" y2="502.58" stroke="#1a1a1a" stroke-width="1.25" />
<line x1="307.8" y1="506.75" x2="312.2" y2="506.75" stroke="#1a1a1a" stroke-width="1.25" />
<line x1="307.8" y1="510.92" x2="310.4" y2="510.92" stroke="#1a1a1a" stroke-width="1.25" />
<line x1="307.8" y1="515.09" x2="310.4" y2="515.09" stroke="#1a1a1a" stroke-width="1.25" />
<line x1="307.8" y1="519.26" x2="310.4" y2="519.26" stroke="#1a1a1a" stroke-width="1.25" />
<line x1="307.8" y1="523.43" x2="310.4" y2="523.43" stroke="#1a1a1a" stroke-width="1.25" />
<line x1="312.29" y1="527.6" x2="312.29" y2="525.1" stroke="#1a1a1a" stroke-width="1.2" />
<line x1="316.78" y1="527.6" x2="316.78" y2="525.1" stroke="#1a1a1a" stroke-width="1.2" />
<line x1="321.26" y1="527.6" x2="321.26" y2="525.1" stroke="#1a1a1a" stroke-width="1.2" />
<line x1="325.75" y1="527.6" x2="325.75" y2="525.1" stroke="#1a1a1a" stroke-width="1.2" />
<line x1="330.24" y1="527.6" x2="330.24" y2="523.2" stroke="#1a1a1a" stroke-width="1.2" />
<line x1="334.73" y1="527.6" x2="334.73" y2="525.1" stroke="#1a1a1a" stroke-width="1.2" />
<line x1="339.21" y1="527.6" x2="339.21" y2="525.1" stroke="#1a1a1a" stroke-width="1.2" />
<line x1="343.7" y1="527.6" x2="343.7" y2="525.1" stroke="#1a1a1a" stroke-width="1.2" />
<line x1="348.19" y1="527.6" x2="348.19" y2="525.1" stroke="#1a1a1a" stroke-width="1.2" />
<line x1="352.68" y1="527.6" x2="352.68" y2="523.2" stroke="#1a1a1a" stroke-width="1.2" />
<line x1="357.16" y1="527.6" x2="357.16" y2="525.1" stroke="#1a1a1a" stroke-width="1.2" />
<line x1="361.65" y1="527.6" x2="361.65" y2="525.1" stroke="#1a1a1a" stroke-width="1.2" />
<line x1="366.14" y1="527.6" x2="366.14" y2="525.1" stroke="#1a1a1a" stroke-width="1.2" />
<line x1="370.62" y1="527.6" x2="370.62" y2="525.1" stroke="#1a1a1a" stroke-width="1.2" />
<line x1="375.11" y1="527.6" x2="375.11" y2="523.2" stroke="#1a1a1a" stroke-width="1.2" />
<line x1="379.6" y1="527.6" x2="379.6" y2="525.1" stroke="#1a1a1a" stroke-width="1.2" />
<line x1="384.09" y1="527.6" x2="384.09" y2="525.1" stroke="#1a1a1a" stroke-width="1.2" />
<line x1="388.57" y1="527.6" x2="388.57" y2="525.1" stroke="#1a1a1a" stroke-width="1.2" />
<line x1="393.06" y1="527.6" x2="393.06" y2="525.1" stroke="#1a1a1a" stroke-width="1.2" />
<line x1="397.55" y1="527.6" x2="397.55" y2="523.2" stroke="#1a1a1a" stroke-width="1.2" />
<line x1="402.04" y1="527.6" x2="402.04" y2="525.1" stroke="#1a1a1a" stroke-width="1.2" />
<line x1="406.52" y1="527.6" x2="406.52" y2="525.1" stroke="#1a1a1a" stroke-width="1.2" />
<line x1="411.01" y1="527.6" x2="411.01" y2="525.1" stroke="#1a1a1a" stroke-width="1.2" />
<line x1="415.5" y1="527.6" x2="415.5" y2="525.1" stroke="#1a1a1a" stroke-width="1.2" />
<line x1="419.99" y1="527.6" x2="419.99" y2="523.2" stroke="#1a1a1a" stroke-width="1.2" />
<line x1="424.48" y1="527.6" x2="424.48" y2="525.1" stroke="#1a1a1a" stroke-width="1.2" />
<line x1="428.96" y1="527.6" x2="428.96" y2="525.1" stroke="#1a1a1a" stroke-width="1.2" />
<line x1="433.45" y1="527.6" x2="433.45" y2="525.1" stroke="#1a1a1a" stroke-width="1.2" />
<line x1="437.94" y1="527.6" x2="437.94" y2="525.1" stroke="#1a1a1a" stroke-width="1.2" />
<line x1="442.43" y1="527.6" x2="442.43" y2="523.2" stroke="#1a1a1a" stroke-width="1.2" />
<line x1="446.91" y1="527.6" x2="446.91" y2="525.1" stroke="#1a1a1a" stroke-width="1.2" />
<line x1="451.4" y1="527.6" x2="451.4" y2="525.1" stroke="#1a1a1a" stroke-width="1.2" />
<line x1="455.89" y1="527.6" x2="455.89" y2="525.1" stroke="#1a1a1a" stroke-width="1.2" />
<line x1="460.38" y1="527.6" x2="460.38" y2="525.1" stroke="#1a1a1a" stroke-width="1.2" />
<line x1="464.86" y1="527.6" x2="464.86" y2="523.2" stroke="#1a1a1a" stroke-width="1.2" />
<line x1="469.35" y1="527.6" x2="469.35" y2="525.1" stroke="#1a1a1a" stroke-width="1.2" />
<line x1="473.84" y1="527.6" x2="473.84" y2="525.1" stroke="#1a1a1a" stroke-width="1.2" />
<line x1="478.33" y1="527.6" x2="478.33" y2="525.1" stroke="#1a1a1a" stroke-width="1.2" />
<line x1="482.81" y1="527.6" x2="482.81" y2="525.1" stroke="#1a1a1a" stroke-width="1.2" />
<text x="308" y="542.6" font-size="11.5" fill="#1a1a1a" stroke="#1a1a1a" stroke-width="0.3" text-anchor="middle" >0</text>
<text x="352.98" y="542.6" font-size="11.5" fill="#1a1a1a" stroke="#1a1a1a" stroke-width="0.3" text-anchor="middle" >10</text>
<text x="397.85" y="542.6" font-size="11.5" fill="#1a1a1a" stroke="#1a1a1a" stroke-width="0.3" text-anchor="middle" >20</text>
<text x="442.73" y="542.6" font-size="11.5" fill="#1a1a1a" stroke="#1a1a1a" stroke-width="0.3" text-anchor="middle" >30</text>
<text x="487.6" y="542.6" font-size="11.5" fill="#1a1a1a" stroke="#1a1a1a" stroke-width="0.3" text-anchor="middle" >40</text>
<text x="397.6" y="559.3" font-size="11.65" fill="#1a1a1a" stroke="#1a1a1a" stroke-width="0.3" text-anchor="middle" >Cycles</text>
<text transform="translate(298.8 456.5) rotate(-90)" font-size="11.65" fill="#1a1a1a" stroke="#1a1a1a" stroke-width="0.3" text-anchor="middle">Fluorescence</text>
<polyline points="311.8,402.2 316.1,510.6 320.75,402.8 325.05,508.8 329.69,402 334,508.8 338.64,401.6 342.95,508 347.59,402.7 351.9,509.4 356.54,402.2 360.85,508.2 365.48,401.8 369.8,507.6 374.43,402 378.75,509.4 383.38,402.8 387.7,508.6 392.32,402 396.65,508.6 401.27,401.6 405.6,508.8 410.22,401.8 414.55,509 419.16,401.8 423.5,509.6 428.11,402 432.45,508.2 437.06,401.6 441.4,510.2 446,402 450.35,509.2 454.95,403.1 459.3,509.2 463.9,402 468.25,508.6 472.85,402.7 477.2,507.8 481.79,401.8" fill="none" stroke="#1a1a1a" stroke-width="0.85" stroke-linejoin="miter"/>
<circle cx="311.8" cy="402.2" r="1.6" fill="#fff" stroke="#1a1a1a" stroke-width="1"/>
<circle cx="316.1" cy="510.6" r="1.6" fill="#fff" stroke="#1a1a1a" stroke-width="1"/>
<circle cx="320.75" cy="402.8" r="1.6" fill="#fff" stroke="#1a1a1a" stroke-width="1"/>
<circle cx="325.05" cy="508.8" r="1.6" fill="#fff" stroke="#1a1a1a" stroke-width="1"/>
<circle cx="329.69" cy="402" r="1.6" fill="#fff" stroke="#1a1a1a" stroke-width="1"/>
<circle cx="334" cy="508.8" r="1.6" fill="#fff" stroke="#1a1a1a" stroke-width="1"/>
<circle cx="338.64" cy="401.6" r="1.6" fill="#fff" stroke="#1a1a1a" stroke-width="1"/>
<circle cx="342.95" cy="508" r="1.6" fill="#fff" stroke="#1a1a1a" stroke-width="1"/>
<circle cx="347.59" cy="402.7" r="1.6" fill="#fff" stroke="#1a1a1a" stroke-width="1"/>
<circle cx="351.9" cy="509.4" r="1.6" fill="#fff" stroke="#1a1a1a" stroke-width="1"/>
<circle cx="356.54" cy="402.2" r="1.6" fill="#fff" stroke="#1a1a1a" stroke-width="1"/>
<circle cx="360.85" cy="508.2" r="1.6" fill="#fff" stroke="#1a1a1a" stroke-width="1"/>
<circle cx="365.48" cy="401.8" r="1.6" fill="#fff" stroke="#1a1a1a" stroke-width="1"/>
<circle cx="369.8" cy="507.6" r="1.6" fill="#fff" stroke="#1a1a1a" stroke-width="1"/>
<circle cx="374.43" cy="402" r="1.6" fill="#fff" stroke="#1a1a1a" stroke-width="1"/>
<circle cx="378.75" cy="509.4" r="1.6" fill="#fff" stroke="#1a1a1a" stroke-width="1"/>
<circle cx="383.38" cy="402.8" r="1.6" fill="#fff" stroke="#1a1a1a" stroke-width="1"/>
<circle cx="387.7" cy="508.6" r="1.6" fill="#fff" stroke="#1a1a1a" stroke-width="1"/>
<circle cx="392.32" cy="402" r="1.6" fill="#fff" stroke="#1a1a1a" stroke-width="1"/>
<circle cx="396.65" cy="508.6" r="1.6" fill="#fff" stroke="#1a1a1a" stroke-width="1"/>
<circle cx="401.27" cy="401.6" r="1.6" fill="#fff" stroke="#1a1a1a" stroke-width="1"/>
<circle cx="405.6" cy="508.8" r="1.6" fill="#fff" stroke="#1a1a1a" stroke-width="1"/>
<circle cx="410.22" cy="401.8" r="1.6" fill="#fff" stroke="#1a1a1a" stroke-width="1"/>
<circle cx="414.55" cy="509" r="1.6" fill="#fff" stroke="#1a1a1a" stroke-width="1"/>
<circle cx="419.16" cy="401.8" r="1.6" fill="#fff" stroke="#1a1a1a" stroke-width="1"/>
<circle cx="423.5" cy="509.6" r="1.6" fill="#fff" stroke="#1a1a1a" stroke-width="1"/>
<circle cx="428.11" cy="402" r="1.6" fill="#fff" stroke="#1a1a1a" stroke-width="1"/>
<circle cx="432.45" cy="508.2" r="1.6" fill="#fff" stroke="#1a1a1a" stroke-width="1"/>
<circle cx="437.06" cy="401.6" r="1.6" fill="#fff" stroke="#1a1a1a" stroke-width="1"/>
<circle cx="441.4" cy="510.2" r="1.6" fill="#fff" stroke="#1a1a1a" stroke-width="1"/>
<circle cx="446" cy="402" r="1.6" fill="#fff" stroke="#1a1a1a" stroke-width="1"/>
<circle cx="450.35" cy="509.2" r="1.6" fill="#fff" stroke="#1a1a1a" stroke-width="1"/>
<circle cx="454.95" cy="403.1" r="1.6" fill="#fff" stroke="#1a1a1a" stroke-width="1"/>
<circle cx="459.3" cy="509.2" r="1.6" fill="#fff" stroke="#1a1a1a" stroke-width="1"/>
<circle cx="463.9" cy="402" r="1.6" fill="#fff" stroke="#1a1a1a" stroke-width="1"/>
<circle cx="468.25" cy="508.6" r="1.6" fill="#fff" stroke="#1a1a1a" stroke-width="1"/>
<circle cx="472.85" cy="402.7" r="1.6" fill="#fff" stroke="#1a1a1a" stroke-width="1"/>
<circle cx="477.2" cy="507.8" r="1.6" fill="#fff" stroke="#1a1a1a" stroke-width="1"/>
<circle cx="481.79" cy="401.8" r="1.6" fill="#fff" stroke="#1a1a1a" stroke-width="1"/>
<text x="325.2" y="393.5" font-size="11.65" fill="#1a1a1a" stroke="#1a1a1a" stroke-width="0.3" text-anchor="start" >Off</text>
<text x="320.6" y="523.1" font-size="11.65" fill="#1a1a1a" stroke="#1a1a1a" stroke-width="0.3" text-anchor="start" >On</text>
</svg>
</body></html>
